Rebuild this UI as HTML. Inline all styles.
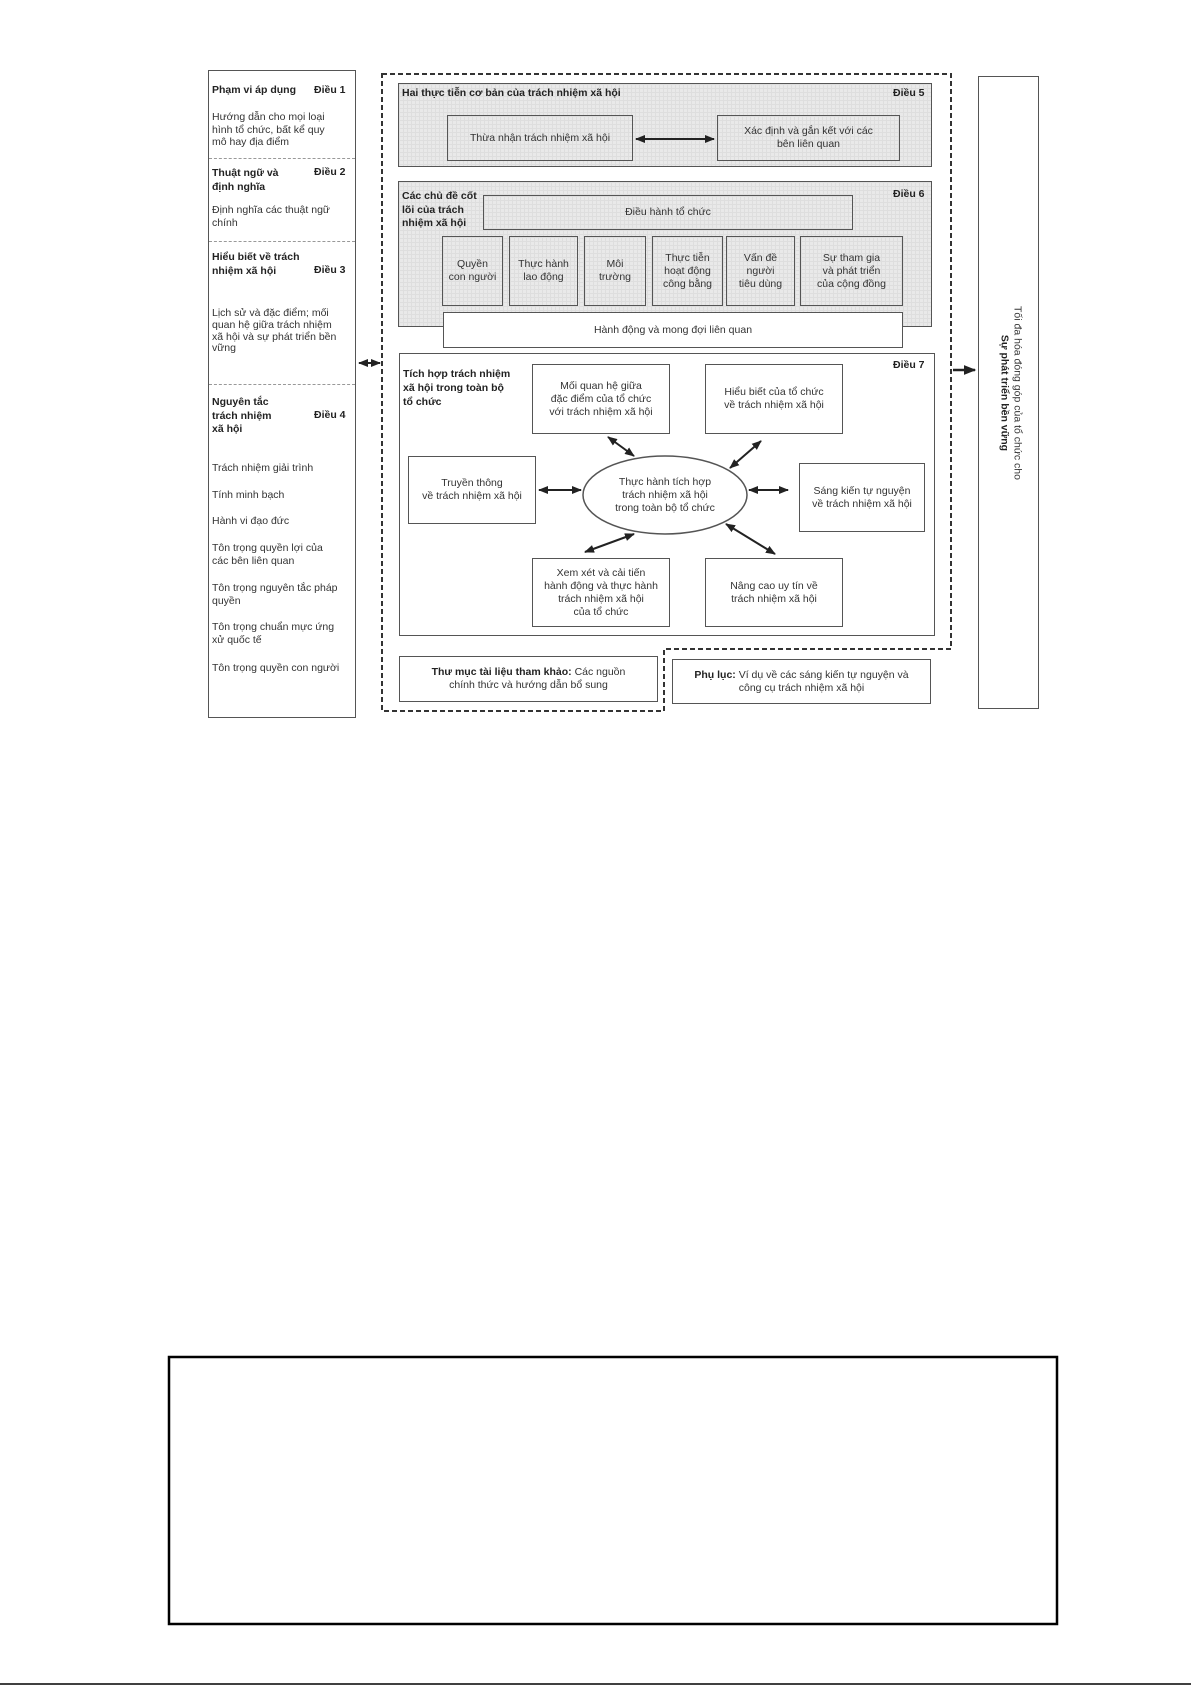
<!DOCTYPE html>
<html><head><meta charset="utf-8"><style>
body{margin:0;width:1191px;height:1685px;position:relative;background:#fff;font-family:"Liberation Sans",Arial,sans-serif;color:#333;overflow:hidden}
.a{position:absolute;box-sizing:border-box}
.bx{border:1.5px solid #555;display:flex;align-items:center;justify-content:center;text-align:center;font-size:10.5px;line-height:13px;background:#fff}
.g{background-color:#e9e9e9;background-image:linear-gradient(#dedede 1px,transparent 1px),linear-gradient(90deg,#dedede 1px,transparent 1px);background-size:4px 4px}
.t{position:absolute;font-size:10.5px;line-height:13px;white-space:nowrap}
b{font-weight:bold;color:#222}
</style></head><body>
<svg class="a" style="left:0;top:0" width="1191" height="1685">
<defs><marker id="m" viewBox="0 0 10 10" refX="9" refY="5" markerWidth="5" markerHeight="5" orient="auto-start-reverse"><path d="M0,1L10,5L0,9z" fill="#222"/></marker></defs>
<!-- dashed outer -->
<path d="M382,74 H951 V649 H664 V711 H382 Z" fill="none" stroke="#333" stroke-width="2" stroke-dasharray="5,3"/>
</svg>
<!-- left column -->
<div class="a" style="left:208px;top:70px;width:148px;height:648px;border:1.5px solid #555"></div>
<div class="a" style="left:209px;top:158px;width:146px;border-top:1.5px dashed #999"></div>
<div class="a" style="left:209px;top:241px;width:146px;border-top:1.5px dashed #999"></div>
<div class="a" style="left:209px;top:384px;width:146px;border-top:1.5px dashed #999"></div>
<div class="t" style="left:212px;top:84px"><b>Phạm vi áp dụng</b></div>
<div class="t" style="left:314px;top:84px"><b>Điều 1</b></div>
<div class="t" style="left:212px;top:111px;line-height:12.5px">Hướng dẫn cho mọi loại<br>hình tổ chức, bất kể quy<br>mô hay địa điểm</div>
<div class="t" style="left:212px;top:166px;line-height:14px"><b>Thuật ngữ và<br>định nghĩa</b></div>
<div class="t" style="left:314px;top:166px"><b>Điều 2</b></div>
<div class="t" style="left:212px;top:204px;line-height:13px">Định nghĩa các thuật ngữ<br>chính</div>
<div class="t" style="left:212px;top:250px;line-height:14px"><b>Hiểu biết về trách<br>nhiệm xã hội</b></div>
<div class="t" style="left:314px;top:264px"><b>Điều 3</b></div>
<div class="t" style="left:212px;top:308px;line-height:11.8px">Lịch sử và đặc điểm; mối<br>quan hệ giữa trách nhiệm<br>xã hội và sự phát triển bền<br>vững</div>
<div class="t" style="left:212px;top:396px;line-height:13.5px"><b>Nguyên tắc<br>trách nhiệm<br>xã hội</b></div>
<div class="t" style="left:314px;top:409px"><b>Điều 4</b></div>
<div class="t" style="left:212px;top:462px">Trách nhiệm giải trình</div>
<div class="t" style="left:212px;top:489px">Tính minh bạch</div>
<div class="t" style="left:212px;top:515px">Hành vi đạo đức</div>
<div class="t" style="left:212px;top:542px">Tôn trọng quyền lợi của<br>các bên liên quan</div>
<div class="t" style="left:212px;top:582px">Tôn trọng nguyên tắc pháp<br>quyền</div>
<div class="t" style="left:212px;top:621px">Tôn trọng chuẩn mực ứng<br>xử quốc tế</div>
<div class="t" style="left:212px;top:662px">Tôn trọng quyền con người</div>

<!-- Dieu 5 -->
<div class="a g" style="left:398px;top:83px;width:534px;height:84px;border:1.5px solid #555"></div>
<div class="t" style="left:402px;top:87px"><b>Hai thực tiễn cơ bản của trách nhiệm xã hội</b></div>
<div class="t" style="left:893px;top:87px"><b>Điều 5</b></div>
<div class="a bx g" style="left:447px;top:115px;width:186px;height:46px">Thừa nhận trách nhiệm xã hội</div>
<div class="a bx g" style="left:717px;top:115px;width:183px;height:46px">Xác định và gắn kết với các<br>bên liên quan</div>

<!-- Dieu 6 -->
<div class="a g" style="left:398px;top:181px;width:534px;height:146px;border:1.5px solid #555"></div>
<div class="t" style="left:402px;top:190px;line-height:13.5px"><b>Các chủ đề cốt<br>lõi của trách<br>nhiệm xã hội</b></div>
<div class="t" style="left:893px;top:188px"><b>Điều 6</b></div>
<div class="a bx g" style="left:483px;top:195px;width:370px;height:35px">Điều hành tổ chức</div>
<div class="a bx g" style="left:442px;top:236px;width:61px;height:70px">Quyền<br>con người</div>
<div class="a bx g" style="left:509px;top:236px;width:69px;height:70px">Thực hành<br>lao động</div>
<div class="a bx g" style="left:584px;top:236px;width:62px;height:70px">Môi<br>trường</div>
<div class="a bx g" style="left:652px;top:236px;width:71px;height:70px">Thực tiễn<br>hoạt động<br>công bằng</div>
<div class="a bx g" style="left:726px;top:236px;width:69px;height:70px">Vấn đề<br>người<br>tiêu dùng</div>
<div class="a bx g" style="left:800px;top:236px;width:103px;height:70px">Sự tham gia<br>và phát triển<br>của cộng đồng</div>
<div class="a bx" style="left:443px;top:312px;width:460px;height:36px">Hành động và mong đợi liên quan</div>

<!-- Dieu 7 -->
<div class="a" style="left:399px;top:353px;width:536px;height:283px;border:1.5px solid #555;background:#fff"></div>
<div class="t" style="left:403px;top:367px;line-height:14px"><b>Tích hợp trách nhiệm<br>xã hội trong toàn bộ<br>tổ chức</b></div>
<div class="t" style="left:893px;top:359px"><b>Điều 7</b></div>
<div class="a bx" style="left:532px;top:364px;width:138px;height:70px">Mối quan hệ giữa<br>đặc điểm của tổ chức<br>với trách nhiệm xã hội</div>
<div class="a bx" style="left:705px;top:364px;width:138px;height:70px">Hiểu biết của tổ chức<br>về trách nhiệm xã hội</div>
<div class="a bx" style="left:408px;top:456px;width:128px;height:68px">Truyền thông<br>về trách nhiệm xã hội</div>
<div class="a bx" style="left:799px;top:463px;width:126px;height:69px">Sáng kiến tự nguyện<br>về trách nhiệm xã hội</div>
<div class="a bx" style="left:532px;top:558px;width:138px;height:69px">Xem xét và cải tiến<br>hành động và thực hành<br>trách nhiệm xã hội<br>của tổ chức</div>
<div class="a bx" style="left:705px;top:558px;width:138px;height:69px">Nâng cao uy tín về<br>trách nhiệm xã hội</div>

<div class="a bx" style="left:399px;top:656px;width:259px;height:46px"><span><b>Thư mục tài liệu tham khảo:</b> Các nguồn<br>chính thức và hướng dẫn bổ sung</span></div>
<div class="a bx" style="left:672px;top:659px;width:259px;height:45px"><span><b>Phụ lục:</b> Ví dụ về các sáng kiến tự nguyện và<br>công cụ trách nhiệm xã hội</span></div>

<!-- right box -->
<div class="a" style="left:978px;top:76px;width:61px;height:633px;border:1.5px solid #555"></div>
<div class="a" style="left:852px;top:378px;width:313px;height:30px;transform:rotate(90deg);text-align:center;font-size:10.5px;line-height:13px">Tối đa hóa đóng góp của tổ chức cho<br><b>Sự phát triển bền vững</b></div>

<svg class="a" style="left:0;top:0" width="1191" height="1685">
<ellipse cx="665" cy="495" rx="82" ry="39" fill="#fff" stroke="#555" stroke-width="1.5"/>
<g stroke="#222" stroke-width="2" marker-start="url(#m)" marker-end="url(#m)">
<line x1="636" y1="139" x2="714" y2="139"/>
<line x1="359" y1="363" x2="380" y2="363"/>
<line x1="608" y1="437" x2="634" y2="456"/>
<line x1="761" y1="441" x2="730" y2="468"/>
<line x1="539" y1="490" x2="581" y2="490"/>
<line x1="749" y1="490" x2="788" y2="490"/>
<line x1="585" y1="552" x2="634" y2="534"/>
<line x1="726" y1="524" x2="775" y2="554"/>
</g>
<line x1="953" y1="370" x2="975" y2="370" stroke="#222" stroke-width="2.5" marker-end="url(#m)"/>
<rect x="169" y="1357" width="888" height="267" fill="none" stroke="#000" stroke-width="2.5"/>
<line x1="0" y1="1684" x2="1191" y2="1684" stroke="#000" stroke-width="1.5"/>
</svg>
<div class="t" style="left:583px;top:476px;width:164px;text-align:center">Thực hành tích hợp<br>trách nhiệm xã hội<br>trong toàn bộ tổ chức</div>
</body></html>
